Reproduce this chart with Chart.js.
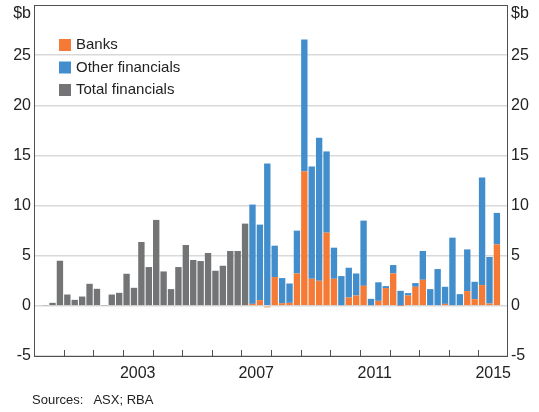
<!DOCTYPE html>
<html>
<head>
<meta charset="utf-8">
<script src="https://cdn.jsdelivr.net/npm/chart.js@4/dist/chart.umd.min.js"></script>
<style>
  body { margin: 0; background: #fff; }
  #wrap { position: relative; width: 539px; height: 412px; }
  #sources { position: absolute; left: 32px; top: 392px; font: 13px "Liberation Sans", Arial, sans-serif; color: #222; white-space: pre; }
</style>
</head>
<body>
<div id="wrap">
  <canvas id="chart" width="539" height="412"></canvas>
  <div id="sources">Sources:   ASX; RBA</div>
</div>
<script>
// quarterly categories, 2000 Q1 .. 2015 Q4
const quarters = [];
for (let y = 2000; y <= 2015; y++) {
    for (let q = 1; q <= 4; q++) quarters.push(y + ' Q' + q);
}

const yearLabels = ['2003', '2007', '2011', '2015'];
const yTicks = [-5, 0, 5, 10, 15, 20, 25];

// $b, 2000 Q1 .. 2007 Q1 (total only)
const totalFinancials = [
    0, 0.05, 0.3, 4.5, 1.13, 0.6, 0.93, 2.2, 1.7, 0.05, 1.13, 1.3, 3.2, 1.8, 6.37, 3.87,
    8.57, 3.43, 1.67, 3.87, 6.07, 4.57, 4.47, 5.27, 3.5, 4.0, 5.47, 5.47, 8.2
];

// $b, 2007 Q2 .. 2015 Q3
const banks = [
    0.2, 0.57, -0.15, 2.87, 0.27, 0.3, 3.23, 13.43, 2.7, 2.5, 7.3,
    2.7, 0.07, 0.83, 1.03, 2.0, 0.07, 0.5, 1.77, 3.23, 0.03, 1.03,
    1.9, 2.6, 0, 0, 0.2, 0.07, 0, 1.47, 0.67, 2.07, 0.23, 6.13
];
const otherFinancials = [
    9.9, 7.53, 14.2, 3.13, 2.5, 1.93, 4.27, 13.12, 11.2, 14.27, 8.1,
    3.1, 2.9, 2.97, 2.2, 6.5, 0.63, 1.85, 0.2, 0.84, 1.47, 0.24,
    0.37, 2.87, 1.67, 3.67, 1.7, 6.73, 1.17, 4.16, 1.73, 10.73, 4.64, 3.14
];

const n = quarters.length;
const pad = (arr, before) => {
    const out = new Array(n).fill(null);
    arr.forEach((v, i) => { out[before + i] = v; });
    return out;
};

const COLORS = { banks: '#f47a35', other: '#428dcc', total: '#727476' };
const FONT = '"Liberation Sans", Arial, sans-serif';

const framePlugin = {
    id: 'frame',
    afterDatasetsDraw(chart) {
        const { ctx, chartArea: a } = chart;
        const yr = chart.scales.yearAxis;
        ctx.save();
        ctx.strokeStyle = '#505050';
        ctx.lineWidth = 1;
        ctx.strokeRect(a.left + 0.5, a.top + 0.5, a.right - a.left - 1, a.bottom - a.top);

        // inward year ticks
        ctx.beginPath();
        for (let y = 2001; y <= 2015; y++) {
            const x = Math.round(yr.getPixelForValue(y)) + 0.5;
            ctx.moveTo(x, a.bottom);
            ctx.lineTo(x, a.bottom - 6);
        }
        ctx.stroke();

        // units
        ctx.fillStyle = '#222';
        ctx.font = '16px ' + FONT;
        ctx.textBaseline = 'middle';
        ctx.textAlign = 'right';
        ctx.fillText('$b', a.left - 3, a.top + 9);
        ctx.textAlign = 'left';
        ctx.fillText('$b', a.right + 3, a.top + 9);

        // legend
        ctx.font = '15px ' + FONT;
        chart.data.datasets.forEach((ds, i) => {
            const cy = 45 + i * 22.5;
            ctx.fillStyle = ds.backgroundColor;
            ctx.fillRect(59, cy - 6, 12, 12);
            ctx.fillStyle = '#222';
            ctx.fillText(ds.label, 76, cy);
        });
        ctx.restore();
    }
};

const noVPad = s => { s.paddingTop = 0; s.paddingBottom = 0; };

new Chart(document.getElementById('chart'), {
    type: 'bar',
    data: {
        labels: quarters,
        datasets: [
            { label: 'Banks', data: pad(banks, 29), backgroundColor: COLORS.banks },
            { label: 'Other financials', data: pad(otherFinancials, 29), backgroundColor: COLORS.other },
            { label: 'Total financials', data: pad(totalFinancials, 0), backgroundColor: COLORS.total }
        ]
    },
    options: {
        responsive: false,
        animation: false,
        layout: { padding: { top: 5, left: 0, right: 0, bottom: 0 } },
        datasets: { bar: { barPercentage: 0.86, categoryPercentage: 1, borderWidth: 0 } },
        plugins: { legend: { display: false }, tooltip: { enabled: false } },
        scales: {
            x: { type: 'category', stacked: true, display: false, offset: true },
            yearAxis: {
                type: 'linear', position: 'bottom', min: 2000, max: 2016, offset: false,
                grid: { display: false, drawTicks: false },
                border: { display: false },
                afterBuildTicks: s => { s.ticks = yearLabels.map(y => ({ value: Number(y) + 0.5 })); },
                afterFit: s => { s.height = 56; s.paddingLeft = 0; s.paddingRight = 0; },
                ticks: {
                    autoSkip: false, maxRotation: 0, padding: 8, color: '#222',
                    font: { family: FONT, size: 16 },
                    callback: v => String(v - 0.5)
                }
            },
            y: {
                stacked: true, position: 'left', min: -5, max: 30,
                afterBuildTicks: s => { s.ticks = yTicks.map(v => ({ value: v })); },
                afterFit: s => { s.width = 34; noVPad(s); },
                grid: { color: '#d9d9d9', lineWidth: 1.5, drawTicks: false },
                border: { display: false },
                ticks: { padding: 3, color: '#222', font: { family: FONT, size: 16 } }
            },
            y2: {
                position: 'right', min: -5, max: 30,
                afterBuildTicks: s => { s.ticks = yTicks.map(v => ({ value: v })); },
                afterFit: s => { s.width = 31; noVPad(s); },
                grid: { display: false, drawTicks: false },
                border: { display: false },
                ticks: { padding: 3, color: '#222', font: { family: FONT, size: 16 } }
            }
        }
    },
    plugins: [framePlugin]
});
</script>
</body>
</html>
